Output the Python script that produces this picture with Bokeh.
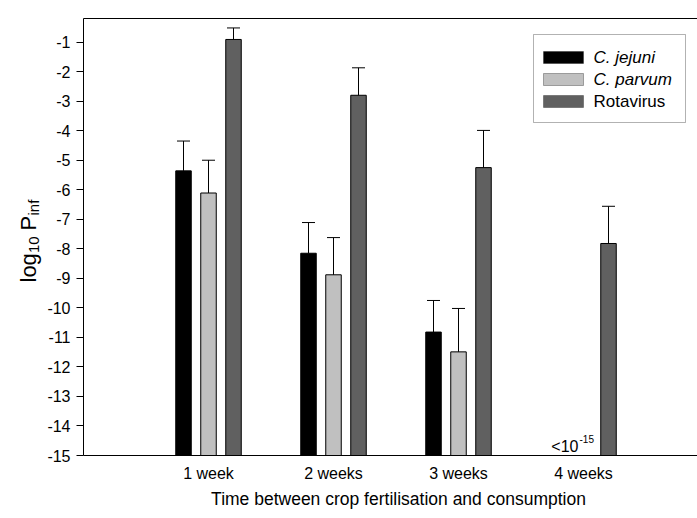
import math
from bokeh.plotting import figure
from bokeh.models import (ColumnDataSource, FixedTicker, Whisker, TeeHead, Label,
                          BoxAnnotation, LinearAxis, Range1d)
from bokeh.embed import file_html
from bokeh.resources import INLINE

# ---------------- data ----------------
weeks = [1, 2, 3, 4]
week_labels = ["1 week", "2 weeks", "3 weeks", "4 weeks"]
series_names = ["C. jejuni", "C. parvum", "Rotavirus"]
cj_mean = [-5.36, -8.15, -10.82, None]
cj_upper = [-4.35, -7.11, -9.75, None]
cp_mean = [-6.11, -8.88, -11.49, None]
cp_upper = [-5.00, -7.62, -10.02, None]
rv_mean = [-0.91, -2.80, -5.25, -7.82]
rv_upper = [-0.52, -1.87, -3.99, -6.56]
y_ticks = list(range(-15, 0))
y_bottom, y_top = -15.0, -0.2
x_title = "Time between crop fertilisation and consumption"
below_limit_text = "<10"
below_limit_exp = "-15"

# ---------------- style / layout ----------------
W, H = 697, 518
AX_L, AX_B, AX_T = 83, 455, 18            # px of the drawn axes
PX_PER_X = 125.0
PX_PER_Y = (AX_B - AX_T) / (y_top - y_bottom)
X0 = -AX_L / PX_PER_X
X1 = (W - AX_L) / PX_PER_X
Y0 = y_bottom - (H - AX_B) / PX_PER_Y
Y1 = y_bottom + AX_B / PX_PER_Y
FONT = "Liberation Sans"
colors = ["#000000", "#c0c0c0", "#606060"]
offsets = [-0.2, 0.0, 0.2]
bar_w = 0.124


def X(px):
    return X0 + px / PX_PER_X


def Y(py):
    return Y1 - py / PX_PER_Y


p = figure(width=W, height=H, x_range=Range1d(X0, X1), y_range=Range1d(Y0, Y1),
           output_backend="svg", toolbar_location=None,
           min_border_left=0, min_border_right=0,
           min_border_top=0, min_border_bottom=0)
p.outline_line_color = None
p.xgrid.visible = False
p.ygrid.visible = False
p.background_fill_color = "white"
p.border_fill_color = "white"

# y axis, drawn at data x = 0
ya = p.yaxis[0]
ya.fixed_location = 0
ya.bounds = (y_bottom, y_top)
ya.ticker = FixedTicker(ticks=y_ticks)
ya.major_tick_out = 7
ya.major_tick_in = 0
ya.minor_tick_out = 0
ya.minor_tick_in = 0
ya.major_tick_line_color = "black"
ya.axis_line_color = "black"
ya.major_label_text_font = FONT
ya.major_label_text_font_size = "16px"
ya.major_label_text_color = "black"
ya.major_label_standoff = 6
ya.major_label_overrides = {t: str(t) for t in y_ticks}

# x axis, drawn at y = -15
xa = p.xaxis[0]
xa.fixed_location = y_bottom
xa.bounds = (0, X1)
xa.ticker = FixedTicker(ticks=weeks)
xa.major_label_overrides = {w: l for w, l in zip(weeks, week_labels)}
xa.major_tick_out = 0
xa.major_tick_in = 0
xa.minor_tick_out = 0
xa.minor_tick_in = 0
xa.axis_line_color = "black"
xa.major_label_text_font = FONT
xa.major_label_text_font_size = "16px"
xa.major_label_text_color = "black"
xa.major_label_standoff = 9

# top border line
top = LinearAxis(ticker=FixedTicker(ticks=[]), major_tick_out=0, major_tick_in=0,
                 minor_tick_out=0, minor_tick_in=0, major_label_text_font_size="0px",
                 axis_line_color="black", bounds=(0, X1), fixed_location=y_top)
p.add_layout(top, "above")

# x axis title
p.add_layout(Label(x=X(398), y=Y(498), text=x_title, text_align="center",
                   text_baseline="alphabetic", text_font=FONT, text_font_size="17.5px",
                   text_color="black"))

# bars + error bars
series = [(cj_mean, cj_upper), (cp_mean, cp_upper), (rv_mean, rv_upper)]
for (means, uppers), off, col, name in zip(series, offsets, colors, series_names):
    xs, tops, ups = [], [], []
    for w, m, u in zip(weeks, means, uppers):
        if m is None:
            continue
        xs.append(w + off)
        tops.append(m)
        ups.append(u)
    src = ColumnDataSource(dict(x=xs, top=tops, upper=ups))
    p.vbar(x="x", top="top", bottom=y_bottom, width=bar_w, source=src,
           fill_color=col, line_color="black", line_width=1)
    wh = Whisker(source=src, base="x", lower="top", upper="upper",
                 upper_head=TeeHead(size=13, line_color="black", line_width=1),
                 lower_head=None, line_color="black", line_width=1, level="glyph")
    p.add_layout(wh)

# below-detection-limit note
p.add_layout(Label(x=X(578), y=Y(446), text=below_limit_text, text_align="right",
                   text_baseline="alphabetic", text_font=FONT, text_font_size="16px",
                   text_color="black"))
p.add_layout(Label(x=X(579), y=Y(438), text=below_limit_exp, text_align="left",
                   text_baseline="alphabetic", text_font=FONT, text_font_size="10px",
                   text_color="black"))

# legend (manual, to allow italic species names)
p.add_layout(BoxAnnotation(left=X(533), right=X(685), top=Y(34), bottom=Y(122),
                           fill_color="white", fill_alpha=1.0, line_color="black",
                           line_width=1, level="annotation"))
row_y = [57, 79, 101]
styles = ["italic", "italic", "normal"]
for ry, col, name, st in zip(row_y, colors, series_names, styles):
    p.add_layout(BoxAnnotation(left=X(543), right=X(583), top=Y(ry - 6), bottom=Y(ry + 6),
                               fill_color=col, fill_alpha=1.0, line_color="black",
                               line_width=1, level="annotation"))
    p.add_layout(Label(x=X(593), y=Y(ry), text=name, text_align="left",
                       text_baseline="middle", text_font=FONT, text_font_size="17px",
                       text_font_style=st, text_color="black", level="annotation"))

# y axis title: log10 Pinf (with subscripts)
ang = math.pi / 2
base_x = 28
sub_x = 33
pieces = [("log", base_x, 282, "22px"), ("10", sub_x, 252.5, "15px"),
          ("P", base_x, 230, "22px"), ("inf", sub_x, 215, "15px")]
for t, fx, fy, fs in pieces:
    p.add_layout(Label(x=X(fx), y=Y(fy), text=t, angle=ang, text_align="left",
                       text_baseline="alphabetic", text_font=FONT, text_font_size=fs,
                       text_color="black"))

open("out.html", "w").write(file_html(p, INLINE))
